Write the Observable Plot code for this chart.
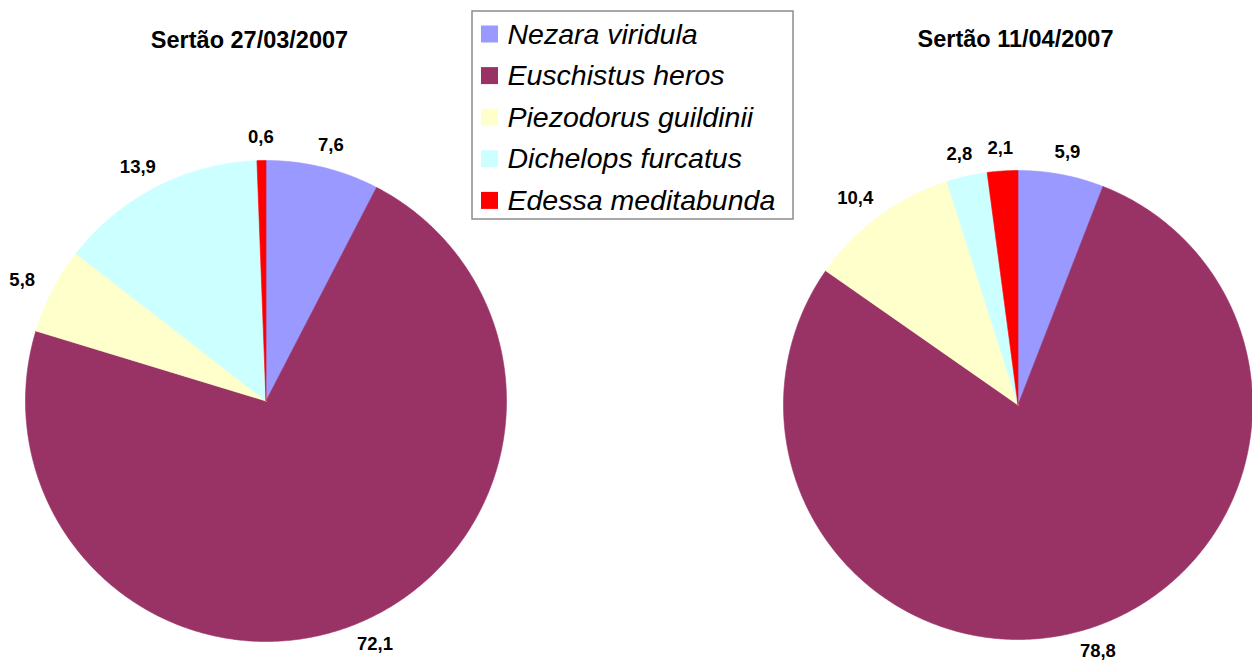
<!DOCTYPE html>
<html>
<head>
<meta charset="utf-8">
<script src="https://cdn.jsdelivr.net/npm/d3@7"></script>
<script src="https://cdn.jsdelivr.net/npm/@observablehq/plot@0.6"></script>
<style>
  html, body { margin: 0; padding: 0; background: #ffffff; }
  #chart svg { display: block; }
</style>
</head>
<body>
<div id="chart"></div>
<script>
// ---- data ----
const species = ["Nezara viridula", "Euschistus heros", "Piezodorus guildinii", "Dichelops furcatus", "Edessa meditabunda"];
const colors = ["#9999FF", "#993366", "#FFFFCC", "#CCFFFF", "#FF0000"];
const titles = ["Sertão 27/03/2007", "Sertão 11/04/2007"];
const values0327 = [7.6, 72.1, 5.8, 13.9, 0.6];
const values0411 = [5.9, 78.8, 10.4, 2.8, 2.1];

// ---- layout (not data) ----
const W = 1252, H = 664;
const pies = [
  {cx: 265.5, cy: 400.5, r: 240.5, tx: 249, ty: 40, values: values0327, title: titles[0]},
  {cx: 1017.5, cy: 404.5, r: 234.5, tx: 1015, ty: 39, values: values0411, title: titles[1]}
];
const legend = {x1: 472, x2: 793, y1: 11, y2: 219, sx: 481, ss: 17, tx: 507, y0: 34, dy: 41.6};
const fmt = v => v.toFixed(1).replace(".", ",");

// build slice polygons and labels via d3.pie
const slicePts = [];
const labels = [];
pies.forEach((p, pi) => {
  const arcs = d3.pie().sort(null).value(d => d.value)(p.values.map((value, i) => ({value, species: species[i]})));
  arcs.forEach(a => {
    const id = pi + ":" + a.data.species;
    slicePts.push({id, species: a.data.species, x: p.cx, y: p.cy});
    const n = Math.max(2, Math.ceil((a.endAngle - a.startAngle) / (Math.PI / 360)));
    for (let k = 0; k <= n; k++) {
      const t = a.startAngle + (a.endAngle - a.startAngle) * k / n;
      slicePts.push({id, species: a.data.species, x: p.cx + p.r * Math.sin(t), y: p.cy - p.r * Math.cos(t)});
    }
    slicePts.push({id, species: a.data.species, x: p.cx, y: p.cy});
    const m = (a.startAngle + a.endAngle) / 2;
    const txt = fmt(a.data.value);
    const rr = p.r + 16;
    labels.push({
      text: txt,
      x: p.cx + rr * Math.sin(m) + Math.sin(m) * txt.length * 6,
      y: p.cy - rr * Math.cos(m) - Math.cos(m) * 7
    });
  });
});

const chart = Plot.plot({
  width: W,
  height: H,
  margin: 0,
  x: {domain: [0, W], range: [0, W], axis: null},
  y: {domain: [0, H], range: [0, H], axis: null},
  color: {domain: species, range: colors},
  style: {background: "#ffffff"},
  marks: [
    Plot.line(slicePts, {x: "x", y: "y", z: "id", fill: "species", stroke: "species", strokeWidth: 0.6, curve: "linear"}),
    Plot.text(labels, {x: "x", y: "y", text: "text", fontFamily: "Liberation Sans, Arial, sans-serif", fontSize: 18.5, fontWeight: "bold", fill: "#000"}),
    Plot.text(pies, {x: "tx", y: "ty", text: "title", fontFamily: "Liberation Sans, Arial, sans-serif", fontSize: 23.5, fontWeight: "bold", fill: "#000"}),
    Plot.rect([legend], {x1: "x1", x2: "x2", y1: "y1", y2: "y2", fill: "#ffffff", stroke: "#8c8c8c", strokeWidth: 1.5}),
    Plot.rect(species, {
      x1: () => legend.sx, x2: () => legend.sx + legend.ss,
      y1: (d, i) => legend.y0 + i * legend.dy - legend.ss / 2,
      y2: (d, i) => legend.y0 + i * legend.dy + legend.ss / 2,
      fill: d => d
    }),
    Plot.text(species, {
      x: () => legend.tx, y: (d, i) => legend.y0 + i * legend.dy, text: d => d,
      textAnchor: "start", fontFamily: "Liberation Sans, Arial, sans-serif", fontSize: 28.5, fontStyle: "italic", fill: "#000"
    })
  ]
});
document.getElementById("chart").append(chart);
</script>
</body>
</html>
